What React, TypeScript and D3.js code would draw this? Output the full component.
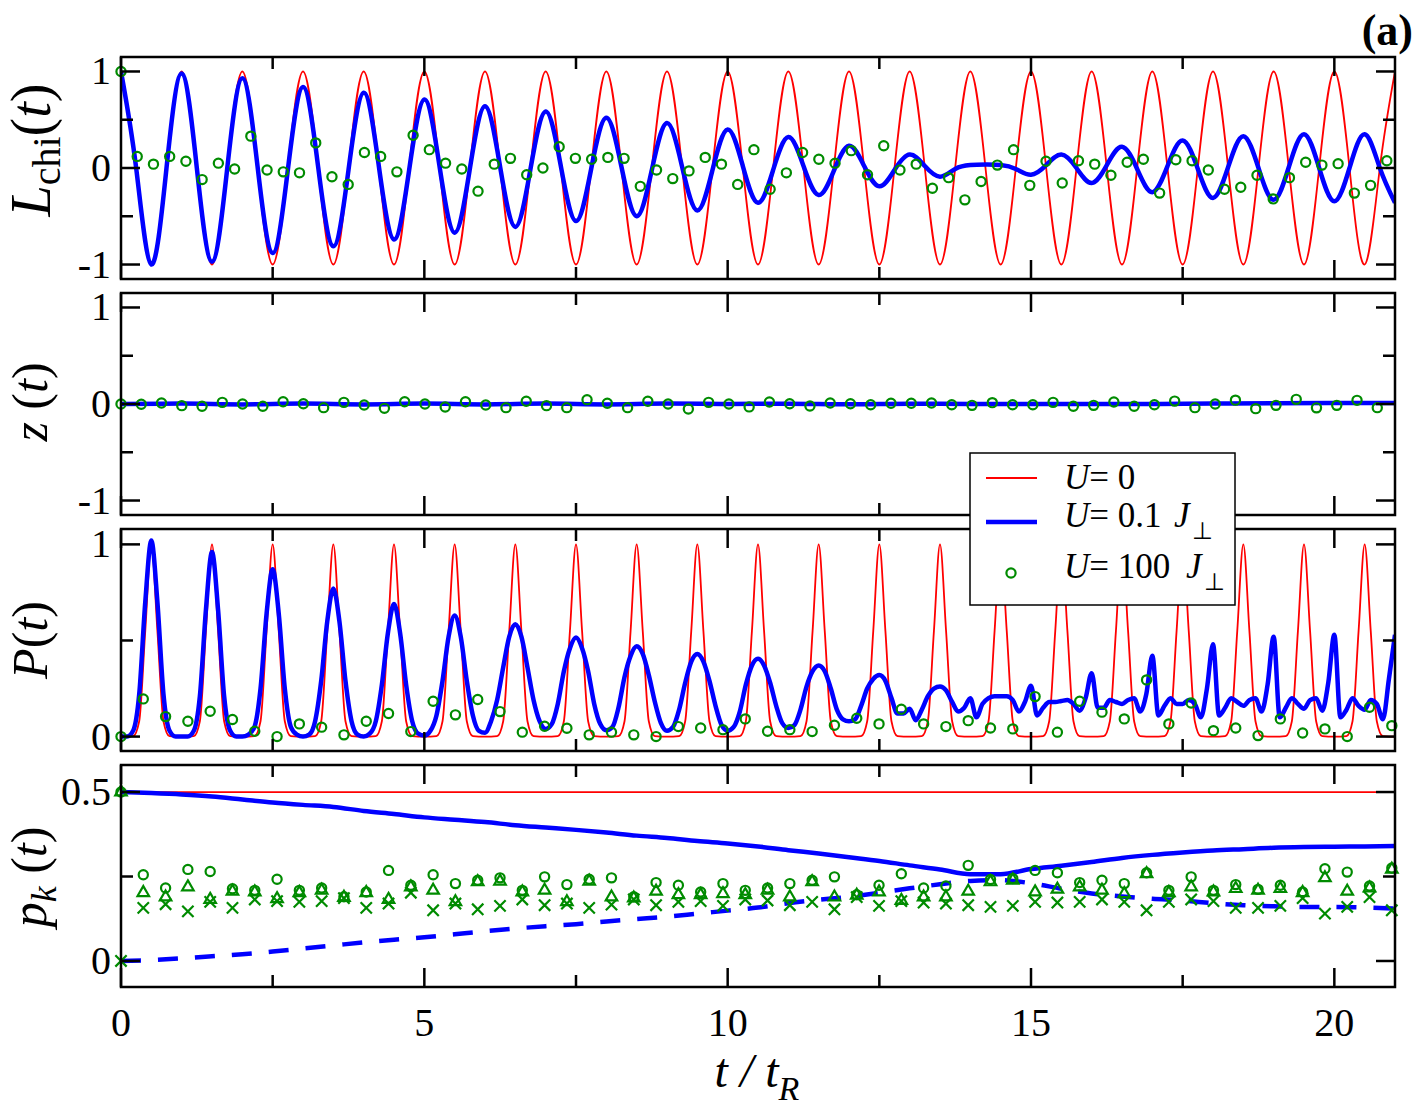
import React, { useEffect, useRef } from 'react';
import * as d3 from 'd3';

const W = 1419;
const H = 1107;
const X0 = 121;
const X1 = 1395;
const PH = 222;
const RED = '#ff0000';
const BLUE = '#0000ff';
const GREEN = '#008b00';
const FONT = "'Liberation Serif', 'Times New Roman', serif";

// ---- L_chi(t), sampled every quarter t_R ----
const lStep = 0.25;
const lU0 = [
  1, 0, -1, 0, 1, 0, -1, 0, 1, 0, -1, 0, 1, 0, -1, 0, 1, 0, -1, 0,
  1, 0, -1, 0, 1, 0, -1, 0, 1, 0, -1, 0, 1, 0, -1, 0, 1, 0, -1, 0,
  1, 0, -1, 0, 1, 0, -1, 0, 1, 0, -1, 0, 1, 0, -1, 0, 1, 0, -1, 0,
  1, 0, -1, 0, 1, 0, -1, 0, 1, 0, -1, 0, 1, 0, -1, 0, 1, 0, -1, 0,
  1, 0, -1, 0, 1,
];
const lU01 = [
  1.0, 0.0, -1.0, 0.0, 0.98, 0.0, -0.97, -0.01, 0.93, 0.02, -0.88, -0.02, 0.84, 0.01, -0.81, -0.02,
  0.78, 0.02, -0.74, -0.02, 0.71, 0.02, -0.67, -0.01, 0.64, 0.01, -0.61, -0.01, 0.585, 0.02, -0.55, -0.01,
  0.52, 0.01, -0.5, -0.02, 0.465, 0.01, -0.44, -0.02, 0.4, 0.02, -0.36, -0.02, 0.32, 0.02, -0.28, -0.03,
  0.23, 0.02, -0.19, -0.02, 0.14, 0.02, -0.09, -0.01, 0.03, 0.035, 0.03, -0.01, -0.07, 0.03, 0.14, 0.0,
  -0.155, 0.03, 0.22, -0.01, -0.25, 0.02, 0.285, -0.01, -0.31, 0.01, 0.33, 0.0, -0.33, 0.01, 0.35, 0.0,
  -0.345, 0.0, 0.35, 0.0, -0.36,
];
const lCircStep = 0.2675;
const lU100 = [
  1.0, 0.12, 0.04, 0.12, 0.07, -0.12, 0.05, -0.01, 0.33, -0.02,
  -0.04, -0.05, 0.26, -0.09, -0.17, 0.16, 0.12, -0.04, 0.34, 0.19,
  0.05, -0.01, -0.24, 0.04, 0.1, -0.07, 0.0, 0.22, 0.1, 0.09,
  0.11, 0.1, -0.19, -0.02, -0.11, -0.03, 0.11, 0.04, -0.17, 0.19,
  -0.22, -0.05, 0.16, 0.09, 0.05, 0.18, -0.07, 0.23, -0.02, 0.04,
  -0.21, -0.1, -0.33, -0.14, 0.03, 0.19, -0.18, 0.07, -0.155, 0.075,
  0.04, -0.075, 0.06, 0.09, -0.26, 0.085, 0.075, -0.02, -0.22, -0.2,
  -0.075, -0.32, -0.1, 0.06, 0.03, 0.045, -0.26, -0.18, 0.075,
];

// ---- z(t) ----
const zStep = 1;
const zU0 = [0, 0];
const zU01 = [0, 0.004, -0.004, 0.004, -0.004, 0.004, -0.004, 0.004, -0.004, 0.004, 0, 0.003, -0.003, 0.003, 0, 0, 0, 0, 0.005, 0.008, 0.01, 0.01];
const zCircStep = 0.334;
const zU100 = [
  0, -0.003, 0.01, -0.017, -0.024, 0.017, 0, -0.024, 0.024, 0.003,
  -0.038, 0.017, -0.01, -0.045, 0.024, 0, -0.031, 0.024, -0.01, -0.038,
  0.028, -0.017, -0.038, 0.045, 0.007, -0.038, 0.028, 0, -0.052, 0.017,
  0, -0.03, 0.02, 0.003, -0.02, 0.01, 0.003, -0.007, 0.007, 0.007,
  0.01, -0.007, -0.014, 0.014, -0.007, -0.007, 0.017, -0.024, -0.014, 0.02,
  -0.024, -0.007, 0.03, -0.038, 0, 0.04, -0.048, -0.014, 0.048, -0.04,
  -0.014, 0.038, -0.038,
];

// ---- P(t), sampled every 0.1 t_R ----
const pStep = 0.1;
const pU0 = [
  0, 0, 0.002, 0.08, 0.55, 1, 0.55, 0.08, 0.002, 0,
  0, 0, 0.002, 0.08, 0.55, 1, 0.55, 0.08, 0.002, 0,
  0, 0, 0.002, 0.08, 0.55, 1, 0.55, 0.08, 0.002, 0,
  0, 0, 0.002, 0.08, 0.55, 1, 0.55, 0.08, 0.002, 0,
  0, 0, 0.002, 0.08, 0.55, 1, 0.55, 0.08, 0.002, 0,
  0, 0, 0.002, 0.08, 0.55, 1, 0.55, 0.08, 0.002, 0,
  0, 0, 0.002, 0.08, 0.55, 1, 0.55, 0.08, 0.002, 0,
  0, 0, 0.002, 0.08, 0.55, 1, 0.55, 0.08, 0.002, 0,
  0, 0, 0.002, 0.08, 0.55, 1, 0.55, 0.08, 0.002, 0,
  0, 0, 0.002, 0.08, 0.55, 1, 0.55, 0.08, 0.002, 0,
  0, 0, 0.002, 0.08, 0.55, 1, 0.55, 0.08, 0.002, 0,
  0, 0, 0.002, 0.08, 0.55, 1, 0.55, 0.08, 0.002, 0,
  0, 0, 0.002, 0.08, 0.55, 1, 0.55, 0.08, 0.002, 0,
  0, 0, 0.002, 0.08, 0.55, 1, 0.55, 0.08, 0.002, 0,
  0, 0, 0.002, 0.08, 0.55, 1, 0.55, 0.08, 0.002, 0,
  0, 0, 0.002, 0.08, 0.55, 1, 0.55, 0.08, 0.002, 0,
  0, 0, 0.002, 0.08, 0.55, 1, 0.55, 0.08, 0.002, 0,
  0, 0, 0.002, 0.08, 0.55, 1, 0.55, 0.08, 0.002, 0,
  0, 0, 0.002, 0.08, 0.55, 1, 0.55, 0.08, 0.002, 0,
  0, 0, 0.002, 0.08, 0.55, 1, 0.55, 0.08, 0.002, 0,
  0, 0, 0.002, 0.08, 0.55, 1, 0.55, 0.08, 0.002, 0,
  0,
];
const pU01 = [
  0, 0, 0.03, 0.22, 0.7, 1.02, 0.7, 0.22, 0.03, 0,
  0, 0, 0.03, 0.21, 0.66, 0.96, 0.66, 0.21, 0.03, 0,
  0, 0.01, 0.05, 0.25, 0.64, 0.87, 0.64, 0.25, 0.05, 0.01,
  0, 0.01, 0.08, 0.29, 0.6, 0.77, 0.6, 0.29, 0.08, 0.01,
  0, 0.015, 0.08, 0.27, 0.54, 0.69, 0.54, 0.27, 0.08, 0.015,
  0.005, 0.03, 0.11, 0.29, 0.52, 0.63, 0.52, 0.29, 0.11, 0.03,
  0.02, 0.08, 0.19, 0.36, 0.52, 0.585, 0.52, 0.36, 0.19, 0.08,
  0.04, 0.065, 0.17, 0.34, 0.46, 0.515, 0.46, 0.34, 0.17, 0.065,
  0.033, 0.05, 0.15, 0.31, 0.42, 0.47, 0.43, 0.32, 0.18, 0.07,
  0.03, 0.05, 0.14, 0.28, 0.39, 0.43, 0.39, 0.29, 0.16, 0.06,
  0.03, 0.05, 0.13, 0.27, 0.37, 0.405, 0.37, 0.28, 0.16, 0.07,
  0.045, 0.06, 0.14, 0.26, 0.34, 0.37, 0.34, 0.25, 0.14, 0.09,
  0.08, 0.09, 0.16, 0.25, 0.3, 0.32, 0.29, 0.2, 0.12, 0.12,
  0.145, 0.085, 0.14, 0.21, 0.25, 0.26, 0.24, 0.18, 0.13, 0.15,
  0.2, 0.1, 0.17, 0.2, 0.21, 0.21, 0.21, 0.19, 0.13, 0.18,
  0.265, 0.11, 0.15, 0.18, 0.18, 0.185, 0.19, 0.17, 0.135, 0.2,
  0.33, 0.15, 0.15, 0.19, 0.18, 0.17, 0.19, 0.2, 0.13, 0.22,
  0.42, 0.11, 0.16, 0.2, 0.17, 0.17, 0.19, 0.17, 0.1, 0.25,
  0.48, 0.11, 0.15, 0.2, 0.18, 0.16, 0.19, 0.2, 0.13, 0.27,
  0.52, 0.1, 0.15, 0.2, 0.17, 0.145, 0.19, 0.2, 0.135, 0.28,
  0.53, 0.1, 0.14, 0.2, 0.16, 0.14, 0.19, 0.17, 0.09, 0.3,
  0.53,
];
const pCircStep = 0.3675;
const pU100 = [
  0, 0.196, 0.104, 0.08, 0.132, 0.089, 0.028, 0.0, 0.066, 0.049,
  0.009, 0.08, 0.12, 0.026, 0.184, 0.113, 0.193, 0.13, 0.023, 0.054,
  0.043, 0.009, 0.023, 0.009, 0.0, 0.052, 0.045, 0.036, 0.092, 0.028,
  0.036, 0.026, 0.059, 0.095, 0.066, 0.142, 0.066, 0.052, 0.083, 0.045,
  0.04, 0.208, 0.023, 0.184, 0.127, 0.092, 0.295, 0.066, 0.175, 0.031,
  0.045, 0.005, 0.092, 0.019, 0.04, 0.0, 0.153, 0.057,
];

// ---- p_k(t) ----
const pkStep = 0.5;
const pkU0 = [0.5, 0.5];
const pkU01Solid = [
  0.5, 0.497, 0.493, 0.487, 0.478, 0.469, 0.462, 0.456, 0.444, 0.435,
  0.425, 0.418, 0.411, 0.402, 0.395, 0.388, 0.38, 0.371, 0.364, 0.355,
  0.348, 0.339, 0.328, 0.318, 0.307, 0.296, 0.283, 0.271, 0.257, 0.257,
  0.272, 0.282, 0.293, 0.305, 0.314, 0.321, 0.327, 0.331, 0.335, 0.337,
  0.338, 0.339, 0.34,
];
const pkU01Dashed = [
  0, 0.003, 0.008, 0.014, 0.02, 0.028, 0.037, 0.046, 0.055, 0.063,
  0.07, 0.079, 0.088, 0.096, 0.103, 0.109, 0.117, 0.124, 0.131, 0.14,
  0.149, 0.158, 0.171, 0.181, 0.19, 0.202, 0.215, 0.227, 0.237, 0.239,
  0.23, 0.214, 0.2, 0.191, 0.184, 0.179, 0.171, 0.165, 0.162, 0.16,
  0.16, 0.158, 0.155,
];
const pkCircStep = 0.3675;
const pkU100Circ = [
  0.5, 0.255, 0.216, 0.271, 0.265, 0.214, 0.209, 0.242, 0.209, 0.216,
  0.19, 0.204, 0.268, 0.224, 0.255, 0.229, 0.239, 0.246, 0.209, 0.249,
  0.226, 0.242, 0.246, 0.19, 0.232, 0.224, 0.204, 0.229, 0.209, 0.216,
  0.229, 0.239, 0.249, 0.196, 0.224, 0.258, 0.216, 0.222, 0.283, 0.241,
  0.244, 0.268, 0.261, 0.232, 0.239, 0.229, 0.261, 0.209, 0.249, 0.209,
  0.226, 0.212, 0.224, 0.204, 0.273, 0.263, 0.222, 0.275,
];
const pkU100Tri = [
  0.5, 0.202, 0.189, 0.219, 0.182, 0.206, 0.204, 0.184, 0.202, 0.209,
  0.188, 0.202, 0.182, 0.219, 0.209, 0.175, 0.234, 0.236, 0.204, 0.209,
  0.175, 0.236, 0.189, 0.186, 0.206, 0.196, 0.196, 0.199, 0.196, 0.209,
  0.189, 0.234, 0.189, 0.194, 0.204, 0.179, 0.189, 0.189, 0.206, 0.234,
  0.239, 0.204, 0.212, 0.219, 0.209, 0.199, 0.258, 0.202, 0.219, 0.204,
  0.214, 0.209, 0.214, 0.202, 0.246, 0.206, 0.216, 0.271,
];
const pkU100Cross = [
  0, 0.157, 0.168, 0.147, 0.175, 0.157, 0.182, 0.177, 0.175, 0.177,
  0.186, 0.157, 0.17, 0.202, 0.15, 0.17, 0.153, 0.163, 0.182, 0.165,
  0.17, 0.157, 0.167, 0.182, 0.165, 0.175, 0.177, 0.163, 0.182, 0.179,
  0.165, 0.175, 0.153, 0.189, 0.163, 0.177, 0.173, 0.17, 0.165, 0.16,
  0.163, 0.175, 0.173, 0.175, 0.182, 0.175, 0.15, 0.175, 0.182, 0.177,
  0.157, 0.157, 0.163, 0.186, 0.14, 0.16, 0.189, 0.15,
];

const xMajor = [0, 5, 10, 15, 20];
const xMinor = [2.5, 7.5, 12.5, 17.5];

type Pt = [number, number];
const series = (step: number, vals: number[]): Pt[] => vals.map((v, i) => [i * step, v]);

const App: React.FC = () => {
  const svgRef = useRef<SVGSVGElement>(null);

  useEffect(() => {
    if (!svgRef.current) return;
    const svg = d3.select(svgRef.current);
    svg.selectAll('*').remove();

    const x = d3.scaleLinear().domain([0, 21]).range([X0, X1]);
    const defs = svg.append('defs');

    const panels = [
      {
        top: 57, domain: [-1.15, 1.15], major: [-1, 0, 1], minor: [-0.5, 0.5], labels: ['-1', '0', '1'],
        lines: [
          { data: series(lStep, lU0), color: RED, width: 1.8, curve: d3.curveNatural, dash: null },
          { data: series(lStep, lU01), color: BLUE, width: 4.5, curve: d3.curveNatural, dash: null },
        ],
        marks: [{ data: series(lCircStep, lU100), shape: 'circle' }],
      },
      {
        top: 293, domain: [-1.15, 1.15], major: [-1, 0, 1], minor: [-0.5, 0.5], labels: ['-1', '0', '1'],
        lines: [
          { data: series(21, zU0), color: RED, width: 1.8, curve: d3.curveLinear, dash: null },
          { data: series(zStep, zU01), color: BLUE, width: 4.5, curve: d3.curveMonotoneX, dash: null },
        ],
        marks: [{ data: series(zCircStep, zU100), shape: 'circle' }],
      },
      {
        top: 529, domain: [-0.075, 1.08], major: [0, 1], minor: [0.5], labels: ['0', '1'],
        lines: [
          { data: series(pStep, pU0), color: RED, width: 1.8, curve: d3.curveMonotoneX, dash: null },
          { data: series(pStep, pU01), color: BLUE, width: 4.5, curve: d3.curveMonotoneX, dash: null },
        ],
        marks: [{ data: series(pCircStep, pU100), shape: 'circle' }],
      },
      {
        top: 765, domain: [-0.077, 0.58], major: [0, 0.5], minor: [0.25], labels: ['0', '0.5'],
        lines: [
          { data: series(21, pkU0), color: RED, width: 1.8, curve: d3.curveLinear, dash: null },
          { data: series(pkStep, pkU01Solid), color: BLUE, width: 4.5, curve: d3.curveMonotoneX, dash: null },
          { data: series(pkStep, pkU01Dashed), color: BLUE, width: 4.5, curve: d3.curveMonotoneX, dash: '20 17' },
        ],
        marks: [
          { data: series(pkCircStep, pkU100Circ), shape: 'circle' },
          { data: series(pkCircStep, pkU100Tri), shape: 'triangle' },
          { data: series(pkCircStep, pkU100Cross), shape: 'cross' },
        ],
      },
    ];

    const triPath = d3.symbol().type(d3.symbolTriangle2).size(95)() as string;
    const crossPath = d3.symbol().type(d3.symbolTimes).size(85)() as string;

    panels.forEach((p, idx) => {
      const y = d3.scaleLinear().domain(p.domain).range([p.top + PH, p.top]);
      const clipId = `clip-${idx}`;
      defs.append('clipPath').attr('id', clipId)
        .append('rect').attr('x', X0).attr('y', p.top).attr('width', X1 - X0).attr('height', PH);

      const plot = svg.append('g').attr('clip-path', `url(#${clipId})`);

      p.lines.forEach(l => {
        const line = d3.line<Pt>().x(d => x(d[0])).y(d => y(d[1])).curve(l.curve);
        plot.append('path')
          .attr('d', line(l.data) as string)
          .attr('fill', 'none')
          .attr('stroke', l.color)
          .attr('stroke-width', l.width)
          .attr('stroke-linejoin', 'round')
          .attr('stroke-dasharray', l.dash);
      });

      p.marks.forEach(m => {
        const g = svg.append('g').attr('fill', 'none').attr('stroke', GREEN).attr('stroke-width', 2.2);
        m.data.forEach(d => {
          if (m.shape === 'circle') {
            g.append('circle').attr('cx', x(d[0])).attr('cy', y(d[1])).attr('r', 4.6);
          } else {
            g.append('path')
              .attr('d', m.shape === 'triangle' ? triPath : crossPath)
              .attr('transform', `translate(${x(d[0])},${y(d[1])})`);
          }
        });
      });

      // frame and inward ticks
      const axis = svg.append('g').attr('stroke', '#000').attr('stroke-width', 2.5);
      const bottom = p.top + PH;
      const tick = (x1: number, y1: number, x2: number, y2: number) =>
        axis.append('line').attr('x1', x1).attr('y1', y1).attr('x2', x2).attr('y2', y2);
      xMajor.forEach(t => { tick(x(t), p.top, x(t), p.top + 19); tick(x(t), bottom, x(t), bottom - 19); });
      xMinor.forEach(t => { tick(x(t), p.top, x(t), p.top + 12); tick(x(t), bottom, x(t), bottom - 12); });
      p.major.forEach(v => { tick(X0, y(v), X0 + 19, y(v)); tick(X1, y(v), X1 - 19, y(v)); });
      p.minor.forEach(v => { tick(X0, y(v), X0 + 12, y(v)); tick(X1, y(v), X1 - 12, y(v)); });
      axis.append('rect').attr('x', X0).attr('y', p.top).attr('width', X1 - X0).attr('height', PH).attr('fill', 'none');

      p.major.forEach((v, i) => {
        svg.append('text')
          .attr('x', 111).attr('y', y(v) + 13)
          .attr('text-anchor', 'end')
          .attr('font-family', FONT).attr('font-size', 40)
          .text(p.labels[i]);
      });
    });

    // x tick labels
    xMajor.forEach(t => {
      svg.append('text')
        .attr('x', x(t)).attr('y', 1036)
        .attr('text-anchor', 'middle')
        .attr('font-family', FONT).attr('font-size', 40)
        .text(String(t));
    });

    // x title
    const xt = svg.append('text')
      .attr('x', 757).attr('y', 1087)
      .attr('text-anchor', 'middle')
      .attr('font-family', FONT).attr('font-size', 48).attr('font-style', 'italic');
    xt.append('tspan').text('t / t');
    xt.append('tspan').attr('font-size', 34).attr('dy', 13).text('R');

    // y titles (rotated)
    const yTitle = (cx: number, cy: number, fs: number) =>
      svg.append('text')
        .attr('transform', `translate(${cx},${cy}) rotate(-90)`)
        .attr('text-anchor', 'middle')
        .attr('font-family', FONT).attr('font-size', fs);

    const t1 = yTitle(50, 150, 56);
    t1.append('tspan').attr('font-style', 'italic').text('L');
    t1.append('tspan').attr('font-size', 40).attr('dy', 10).text('chi');
    t1.append('tspan').attr('dy', -10).text('(');
    t1.append('tspan').attr('font-style', 'italic').text('t');
    t1.append('tspan').text(')');

    const t2 = yTitle(47, 402, 50);
    t2.append('tspan').attr('font-style', 'italic').text('z');
    t2.append('tspan').text(' (');
    t2.append('tspan').attr('font-style', 'italic').text('t');
    t2.append('tspan').text(')');

    const t3 = yTitle(47, 640, 50);
    t3.append('tspan').attr('font-style', 'italic').text('P');
    t3.append('tspan').text('(');
    t3.append('tspan').attr('font-style', 'italic').text('t');
    t3.append('tspan').text(')');

    const t4 = yTitle(46, 877, 50);
    t4.append('tspan').attr('font-style', 'italic').text('p');
    t4.append('tspan').attr('font-style', 'italic').attr('font-size', 36).attr('dy', 10).text('k');
    t4.append('tspan').attr('dy', -10).text(' (');
    t4.append('tspan').attr('font-style', 'italic').text('t');
    t4.append('tspan').text(')');

    // panel tag
    svg.append('text')
      .attr('x', 1413).attr('y', 45)
      .attr('text-anchor', 'end')
      .attr('font-family', FONT).attr('font-size', 44).attr('font-weight', 'bold')
      .text('(a)');

    // legend
    const lg = svg.append('g');
    lg.append('rect')
      .attr('x', 970).attr('y', 453).attr('width', 265).attr('height', 152)
      .attr('fill', '#fff').attr('stroke', '#000').attr('stroke-width', 1.5);
    lg.append('line').attr('x1', 986).attr('x2', 1037).attr('y1', 478).attr('y2', 478)
      .attr('stroke', RED).attr('stroke-width', 1.8);
    lg.append('line').attr('x1', 986).attr('x2', 1037).attr('y1', 522).attr('y2', 522)
      .attr('stroke', BLUE).attr('stroke-width', 4.5);
    lg.append('circle').attr('cx', 1011).attr('cy', 573).attr('r', 4.6)
      .attr('fill', 'none').attr('stroke', GREEN).attr('stroke-width', 2.2);

    const legendText = (yy: number, value: string, jx: number | null) => {
      const tx = lg.append('text')
        .attr('x', 1064).attr('y', yy)
        .attr('font-family', FONT).attr('font-size', 35);
      tx.append('tspan').attr('font-style', 'italic').text('U');
      tx.append('tspan').text(`= ${value}`);
      if (jx !== null) {
        lg.append('text').attr('x', jx).attr('y', yy)
          .attr('font-family', FONT).attr('font-size', 35).attr('font-style', 'italic').text('J');
        lg.append('text').attr('x', jx + 18).attr('y', yy + 12)
          .attr('font-family', FONT).attr('font-size', 24).text('\u22A5');
      }
    };
    legendText(489, '0', null);
    legendText(527, '0.1', 1174);
    legendText(578, '100', 1186);
  }, []);

  return (
    <svg
      ref={svgRef}
      width={W}
      height={H}
      style={{ position: 'absolute', left: 0, top: 0, background: '#fff' }}
    />
  );
};

export default App;
